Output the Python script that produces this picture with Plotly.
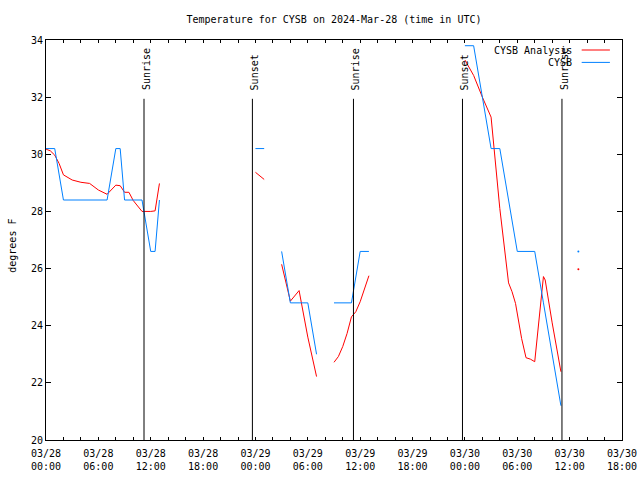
from datetime import datetime, timedelta
import plotly.graph_objects as go

BASE = datetime(2024, 3, 28, 0, 0)

# ---- data (hours after 2024-03-28 00:00 UTC; None = gap) ----
obs_hours = [0, 1, 2, 3, 4, 5, 6, 7, 8, 8.5, 9, 10, 11, 12, 12.5, 13, None,
             24, 25, None,
             27, 28, 29, 30, 31, None,
             33, 34, 35, 36, 37, None,
             48, 49, 50, 51, 52, 53, 54, 55, 56, 57, 58, 59]
obs_temp = [30.2, 30.2, 28.4, 28.4, 28.4, 28.4, 28.4, 28.4, 30.2, 30.2, 28.4, 28.4, 28.4, 26.6, 26.6, 28.4, None,
            30.2, 30.2, None,
            26.6, 24.8, 24.8, 24.8, 23.0, None,
            24.8, 24.8, 24.8, 26.6, 26.6, None,
            33.8, 33.8, 32.0, 30.2, 30.2, 28.4, 26.6, 26.6, 26.6, 24.8, 23.0, 21.2]

ana_hours = [0, 0.5, 1, 1.5, 2, 3, 4, 5, 6, 7, 8, 8.5, 9, 9.5, 10, 11, 12, 12.5, 13, None,
             24, 25, None,
             27, 28, 29, 30, 31, None,
             33, 33.5, 34, 34.5, 35, 35.5, 36, 36.5, 37, None,
             48, 49, 50, 51, 52, 53, 53.4, 53.8, 54.5, 55, 55.5, 56, 57, 57.2, 58, 58.5, 59]
ana_temp = [30.18, 30.12, 29.97, 29.68, 29.28, 29.1, 29.02, 28.98, 28.75, 28.6, 28.92, 28.9, 28.67, 28.67, 28.38, 28.0, 28.0, 28.02, 28.98, None,
            29.37, 29.12, None,
            26.15, 24.86, 25.23, 23.6, 22.22, None,
            22.72, 22.92, 23.27, 23.73, 24.31, 24.49, 24.84, 25.31, 25.75, None,
            33.3, 32.76, 32.0, 31.3, 28.1, 25.5, 25.19, 24.78, 23.55, 22.88, 22.83, 22.74, 25.72, 25.6, 24.1, 23.3, 22.39]

lone_hours = [61]
lone_obs = [26.6]
lone_ana = [25.98]

event_hours = [11.23, 23.65, 35.23, 47.72, 59.12]
event_names = ["Sunrise", "Sunset", "Sunrise", "Sunset", "Sunrise"]

x_range_hours = [0, 66]
y_range = [20, 34]
y_tick_step = 2

title_text = "Temperature for CYSB on 2024-Mar-28 (time in UTC)"
y_title = "degrees F"
ana_name = "CYSB Analysis"
obs_name = "CYSB"

# ---- styles ----
RED = "#ff0000"
BLUE = "#0080ff"
FONT = "DejaVu Sans Mono"


def to_time(hours):
    return [BASE + timedelta(hours=h) if h is not None else None for h in hours]


fig = go.Figure()
fig.add_trace(go.Scatter(x=to_time(ana_hours), y=ana_temp, mode="lines", name=ana_name,
                         line=dict(color=RED, width=1), connectgaps=False, showlegend=False))
fig.add_trace(go.Scatter(x=to_time(obs_hours), y=obs_temp, mode="lines", name=obs_name,
                         line=dict(color=BLUE, width=1), connectgaps=False, showlegend=False))
fig.add_trace(go.Scatter(x=to_time(lone_hours), y=lone_ana, mode="markers", name=ana_name,
                         marker=dict(color=RED, size=2), showlegend=False))
fig.add_trace(go.Scatter(x=to_time(lone_hours), y=lone_obs, mode="markers", name=obs_name,
                         marker=dict(color=BLUE, size=2), showlegend=False))

shapes = []
annotations = []
for h, name in zip(event_hours, event_names):
    t = BASE + timedelta(hours=h)
    shapes.append(dict(type="line", xref="x", yref="paper", x0=t, x1=t, y0=0, y1=0.853,
                       line=dict(color="black", width=1)))
    annotations.append(dict(x=t, y=0.87, xref="x", yref="paper", text=name, textangle=-90,
                            showarrow=False, xanchor="center", yanchor="bottom", xshift=2,
                            font=dict(family=FONT, size=10, color="black")))

# key (gnuplot style: text then line sample)
for i, (name, col) in enumerate([(ana_name, RED), (obs_name, BLUE)]):
    yk = 0.975 - i * 0.031
    annotations.append(dict(x=0.9175, y=yk, xref="paper", yref="paper", text=name,
                            showarrow=False, xanchor="right", yanchor="middle",
                            font=dict(family=FONT, size=10, color="black")))
    shapes.append(dict(type="line", xref="paper", yref="paper", x0=0.930, x1=0.979,
                       y0=yk, y1=yk, line=dict(color=col, width=1)))

# y label
annotations.append(dict(x=-0.0595, y=0.5, xref="paper", yref="paper", text=y_title,
                        textangle=-90, showarrow=False, xanchor="center", yanchor="middle",
                        yshift=-6, font=dict(family=FONT, size=10, color="black")))

fig.update_layout(
    width=640, height=480,
    margin=dict(l=46, r=18, t=40, b=40, autoexpand=False),
    paper_bgcolor="white", plot_bgcolor="white",
    font=dict(family=FONT, size=10, color="black"),
    title=dict(text=title_text, x=0.5, xref="paper", y=1 - 19 / 480, yref="container",
               xanchor="center", yanchor="middle", font=dict(family=FONT, size=10, color="black")),
    shapes=shapes, annotations=annotations, showlegend=False,
)

fig.update_xaxes(
    type="date", automargin=False,
    range=to_time(x_range_hours),
    tick0=BASE, dtick=6 * 3600 * 1000,
    tickformat="%m/%d<br>%H:%M",
    ticks="inside", ticklen=3, tickcolor="black", ticklabelstandoff=4,
    minor=dict(dtick=2 * 3600 * 1000, ticks="inside", ticklen=3, tickcolor="black"),
    showline=True, linecolor="black", linewidth=1, mirror="allticks",
    showgrid=False, zeroline=False,
)
fig.update_yaxes(
    automargin=False,
    range=y_range, dtick=y_tick_step, tick0=y_range[0],
    ticks="inside", ticklen=5, tickcolor="black",
    showline=True, linecolor="black", linewidth=1, mirror="allticks",
    showgrid=False, zeroline=False,
)

fig.write_html("out.html", config={"displayModeBar": False},
               post_script="document.body.style.margin='0px';")
